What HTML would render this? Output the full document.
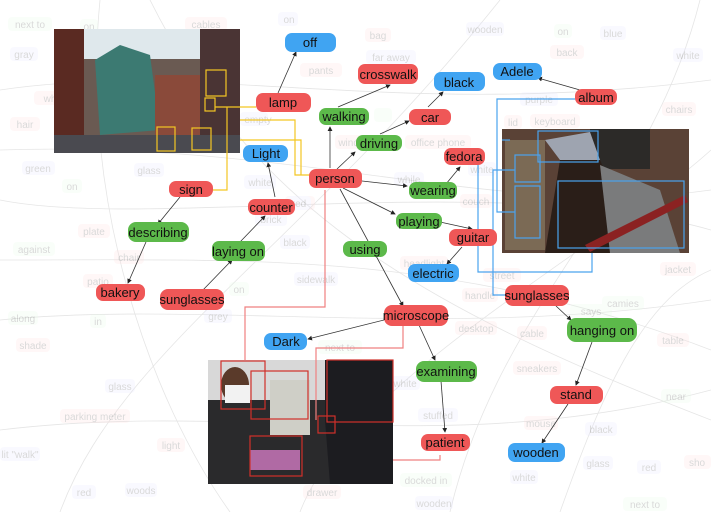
<!DOCTYPE html>
<html><head><meta charset="utf-8"><style>
html,body{margin:0;padding:0;background:#fff;width:711px;height:512px;overflow:hidden}
svg{display:block}
text{font-family:"Liberation Sans",sans-serif}
</style></head><body>
<svg width="711" height="512" viewBox="0 0 711 512" xmlns="http://www.w3.org/2000/svg">
<defs>
<marker id="a" markerWidth="6" markerHeight="6" refX="5" refY="3" orient="auto"><path d="M0,0 L6,3 L0,6z" fill="#222"/></marker>
</defs>
<!-- faint background curves -->
<g stroke="#ccc" stroke-width="0.8" fill="none" opacity="0.5">
<path d="M0,90 C200,60 400,120 711,80"/><path d="M0,200 C150,230 500,170 711,230"/>
<path d="M0,320 C200,300 450,340 711,300"/><path d="M60,512 C120,350 300,250 500,0"/>
<path d="M150,0 C250,200 400,300 711,420"/><path d="M0,430 C250,400 450,460 711,390"/>
<path d="M300,512 C350,380 600,250 711,150"/><path d="M450,512 C500,300 650,200 700,0"/>
<path d="M0,150 C300,140 500,220 711,190"/><path d="M100,0 C80,200 150,400 230,512"/>
<path d="M560,512 C600,400 640,300 711,270"/><path d="M0,260 C250,260 450,250 711,350"/>
</g>
<!-- faint background nodes -->
<g font-size="10" text-anchor="middle" opacity="0.22">
<g fill="#fdd"><rect x="185" y="17" width="42" height="14" rx="4"/><rect x="10" y="117" width="30" height="14" rx="4"/><rect x="78" y="224" width="32" height="14" rx="4"/><rect x="114" y="250" width="30" height="14" rx="4"/><rect x="83" y="274" width="30" height="14" rx="4"/><rect x="16" y="338" width="34" height="14" rx="4"/><rect x="60" y="409" width="70" height="14" rx="4"/><rect x="157" y="438" width="28" height="14" rx="4"/><rect x="365" y="28" width="26" height="14" rx="4"/><rect x="300" y="63" width="42" height="14" rx="4"/><rect x="550" y="45" width="34" height="14" rx="4"/><rect x="662" y="102" width="34" height="14" rx="4"/><rect x="504" y="115" width="18" height="14" rx="4"/><rect x="530" y="114" width="50" height="14" rx="4"/><rect x="405" y="135" width="66" height="14" rx="4"/><rect x="460" y="194" width="32" height="14" rx="4"/><rect x="400" y="256" width="48" height="14" rx="4"/><rect x="483" y="268" width="38" height="14" rx="4"/><rect x="462" y="288" width="36" height="14" rx="4"/><rect x="660" y="262" width="36" height="14" rx="4"/><rect x="455" y="321" width="42" height="14" rx="4"/><rect x="517" y="326" width="30" height="14" rx="4"/><rect x="657" y="333" width="32" height="14" rx="4"/><rect x="513" y="361" width="48" height="14" rx="4"/><rect x="524" y="416" width="34" height="14" rx="4"/><rect x="303" y="485" width="38" height="14" rx="4"/><rect x="684" y="455" width="27" height="14" rx="4"/><rect x="335" y="135" width="40" height="14" rx="4"/><rect x="285" y="196" width="30" height="14" rx="4"/><rect x="190" y="79" width="28" height="14" rx="4"/><rect x="34" y="91" width="30" height="14" rx="4"/></g>
<g fill="#e6e6ff"><rect x="10" y="47" width="28" height="14" rx="4"/><rect x="22" y="161" width="33" height="14" rx="4"/><rect x="134" y="163" width="30" height="14" rx="4"/><rect x="204" y="309" width="28" height="14" rx="4"/><rect x="294" y="272" width="44" height="14" rx="4"/><rect x="466" y="22" width="38" height="14" rx="4"/><rect x="600" y="26" width="26" height="14" rx="4"/><rect x="673" y="48" width="30" height="14" rx="4"/><rect x="366" y="50" width="50" height="14" rx="4"/><rect x="520" y="92" width="38" height="14" rx="4"/><rect x="468" y="162" width="28" height="14" rx="4"/><rect x="394" y="172" width="30" height="14" rx="4"/><rect x="390" y="376" width="30" height="14" rx="4"/><rect x="418" y="408" width="40" height="14" rx="4"/><rect x="585" y="422" width="32" height="14" rx="4"/><rect x="583" y="456" width="30" height="14" rx="4"/><rect x="637" y="460" width="24" height="14" rx="4"/><rect x="510" y="470" width="28" height="14" rx="4"/><rect x="415" y="496" width="38" height="14" rx="4"/><rect x="105" y="379" width="30" height="14" rx="4"/><rect x="72" y="485" width="24" height="14" rx="4"/><rect x="125" y="483" width="32" height="14" rx="4"/><rect x="0" y="447" width="40" height="14" rx="4"/><rect x="244" y="175" width="32" height="14" rx="4"/><rect x="287" y="196" width="24" height="14" rx="4"/><rect x="255" y="212" width="32" height="14" rx="4"/><rect x="280" y="235" width="30" height="14" rx="4"/><rect x="240" y="112" width="28" height="14" rx="4"/><rect x="278" y="12" width="20" height="14" rx="4"/></g>
<g fill="#e6fde6"><rect x="8" y="17" width="44" height="14" rx="4"/><rect x="80" y="19" width="18" height="14" rx="4"/><rect x="100" y="51" width="18" height="14" rx="4"/><rect x="62" y="179" width="20" height="14" rx="4"/><rect x="13" y="242" width="42" height="14" rx="4"/><rect x="8" y="311" width="30" height="14" rx="4"/><rect x="90" y="314" width="16" height="14" rx="4"/><rect x="229" y="282" width="20" height="14" rx="4"/><rect x="554" y="24" width="18" height="14" rx="4"/><rect x="374" y="108" width="18" height="14" rx="4"/><rect x="570" y="304" width="42" height="14" rx="4"/><rect x="602" y="296" width="42" height="14" rx="4"/><rect x="661" y="389" width="30" height="14" rx="4"/><rect x="400" y="473" width="52" height="14" rx="4"/><rect x="623" y="497" width="44" height="14" rx="4"/><rect x="318" y="340" width="44" height="14" rx="4"/></g>
<g fill="#555"><text x="30" y="28">next to</text><text x="89" y="30">on</text><text x="206" y="28">cables</text><text x="289" y="23">on</text><text x="24" y="58">gray</text><text x="109" y="62">on</text><text x="25" y="128">hair</text><text x="38" y="172">green</text><text x="72" y="190">on</text><text x="149" y="174">glass</text><text x="94" y="235">plate</text><text x="34" y="253">against</text><text x="129" y="261">chair</text><text x="98" y="285">patio</text><text x="23" y="322">along</text><text x="98" y="325">in</text><text x="33" y="349">shade</text><text x="120" y="390">glass</text><text x="95" y="420">parking meter</text><text x="171" y="449">light</text><text x="20" y="458">lit "walk"</text><text x="84" y="496">red</text><text x="141" y="494">woods</text><text x="218" y="320">grey</text><text x="239" y="293">on</text><text x="316" y="283">sidewalk</text><text x="378" y="39">bag</text><text x="485" y="33">wooden</text><text x="391" y="61">far away</text><text x="321" y="74">pants</text><text x="563" y="35">on</text><text x="613" y="37">blue</text><text x="567" y="56">back</text><text x="688" y="59">white</text><text x="539" y="103">purple</text><text x="513" y="126">lid</text><text x="555" y="125">keyboard</text><text x="679" y="113">chairs</text><text x="438" y="146">office phone</text><text x="482" y="173">white</text><text x="409" y="183">while</text><text x="476" y="205">couch</text><text x="424" y="267">headlight</text><text x="502" y="279">street</text><text x="480" y="299">handle</text><text x="678" y="273">jacket</text><text x="591" y="315">says</text><text x="623" y="307">camies</text><text x="476" y="332">desktop</text><text x="532" y="337">cable</text><text x="673" y="344">table</text><text x="537" y="372">sneakers</text><text x="405" y="387">white</text><text x="438" y="419">stuffed</text><text x="541" y="427">mouse</text><text x="601" y="433">black</text><text x="598" y="467">glass</text><text x="649" y="471">red</text><text x="426" y="484">docked in</text><text x="524" y="481">white</text><text x="434" y="507">wooden</text><text x="322" y="496">drawer</text><text x="645" y="508">next to</text><text x="697" y="466">sho</text><text x="260" y="186">white</text><text x="299" y="207">red</text><text x="271" y="223">brick</text><text x="295" y="246">black</text><text x="676" y="400">near</text><text x="340" y="351">next to</text><text x="258" y="123">empty</text><text x="355" y="146">window</text><text x="50" y="102">wh</text></g>
</g>
<!-- photos -->
<g>
<rect x="54" y="29" width="186" height="124" fill="#6a5a52"/>
<rect x="54" y="29" width="186" height="30" fill="#dfe8ec"/>
<rect x="54" y="29" width="30" height="124" fill="#5a2a22"/>
<rect x="200" y="29" width="40" height="124" fill="#4a3434"/>
<path d="M95,60 L120,45 L150,55 L160,130 L100,135z" fill="#3c7a72"/>
<rect x="155" y="75" width="45" height="60" fill="#8a4a3a"/>
<rect x="54" y="135" width="186" height="18" fill="#4a4a50"/>
<g fill="none" stroke="#f3c623" stroke-width="1.2"><rect x="206" y="70" width="20" height="26"/><rect x="205" y="98" width="10" height="13"/><rect x="157" y="127" width="18" height="24"/><rect x="192" y="128" width="19" height="22"/></g>
</g>
<g>
<rect x="502" y="129" width="187" height="124" fill="#5a4236"/>
<rect x="590" y="129" width="60" height="40" fill="#2c2a28"/>
<path d="M545,140 L590,132 L600,160 L560,160z" fill="#9ea4b0"/>
<path d="M560,160 L600,160 L640,253 L545,253z" fill="#2a1e18"/>
<path d="M600,165 L660,190 L680,253 L610,253z" fill="#7a7b7c"/>
<path d="M585,245 L685,195 L688,202 L590,252z" fill="#8b2222"/>
<rect x="505" y="140" width="40" height="110" fill="#7b6a55"/>
<g fill="none" stroke="#4aa3ee" stroke-width="1.2"><rect x="538" y="131" width="60" height="31"/><rect x="515" y="155" width="25" height="27"/><rect x="515" y="186" width="25" height="52"/><rect x="558" y="181" width="126" height="67"/></g>
</g>
<g>
<rect x="208" y="360" width="185" height="124" fill="#2a2a2c"/>
<rect x="208" y="360" width="185" height="40" fill="#d8d8d8"/>
<rect x="270" y="380" width="40" height="55" fill="#cfcfc7"/>
<ellipse cx="235" cy="385" rx="14" ry="18" fill="#5a3a2a"/>
<rect x="225" y="385" width="25" height="18" fill="#f2f2f2"/>
<path d="M325,360 L393,360 L393,484 L330,484 L325,420z" fill="#1c1c20"/>
<rect x="250" y="450" width="50" height="20" fill="#b06aa4"/>
<g fill="none" stroke="#d0302a" stroke-width="1.2"><rect x="221" y="361" width="44" height="48"/><rect x="251" y="371" width="57" height="48"/><rect x="327" y="360" width="66" height="62"/><rect x="318" y="416" width="17" height="17"/><rect x="250" y="436" width="52" height="40"/></g>
</g>
<!-- image connectors -->
<g fill="none" stroke="#f3c623" stroke-width="1.2">
<path d="M215,107 L256,107"/><path d="M240,120 L295,120 L295,175 L310,175"/><path d="M240,140 L301,140 L301,175"/><path d="M212,190 L227,190 L227,107"/>
</g>
<g fill="none" stroke="#ef8080" stroke-width="1.2">
<path d="M325,190 L325,307 L245,307 L245,360"/><path d="M403,324 L403,348 L316,348 L316,420"/><path d="M440,455 L440,460 L393,460"/>
</g>
<g fill="none" stroke="#4aa3ee" stroke-width="1.2">
<path d="M575,99 L497,99 L497,212 L515,212"/><path d="M448,158 L478,158 L478,272 L592,272 L592,253"/><path d="M505,295 L493,295 L493,170 L515,170"/><path d="M502,140 L510,140"/>
</g>
<!-- arrows -->
<g stroke="#333" stroke-width="0.8" fill="none" marker-end="url(#a)">
<line x1="278" y1="93" x2="296" y2="52"/>
<line x1="338" y1="107" x2="390" y2="85"/>
<line x1="428" y1="107" x2="443" y2="92"/>
<line x1="380" y1="134" x2="409" y2="121"/>
<line x1="580" y1="90" x2="538" y2="78"/>
<line x1="330" y1="168" x2="330" y2="127"/>
<line x1="337" y1="169" x2="355" y2="152"/>
<line x1="362" y1="181" x2="407" y2="186"/>
<line x1="446" y1="184" x2="460" y2="167"/>
<line x1="343" y1="188" x2="395" y2="214"/>
<line x1="440" y1="222" x2="472" y2="229"/>
<line x1="462" y1="247" x2="447" y2="264"/>
<line x1="340" y1="189" x2="403" y2="306"/>
<line x1="384" y1="320" x2="308" y2="339"/>
<line x1="419" y1="325" x2="435" y2="360"/>
<line x1="441" y1="381" x2="445" y2="432"/>
<line x1="556" y1="306" x2="571" y2="320"/>
<line x1="592" y1="342" x2="576" y2="385"/>
<line x1="568" y1="404" x2="542" y2="443"/>
<line x1="275" y1="197" x2="268" y2="163"/>
<line x1="240" y1="242" x2="265" y2="216"/>
<line x1="180" y1="197" x2="158" y2="224"/>
<line x1="146" y1="242" x2="128" y2="283"/>
<line x1="202" y1="291" x2="232" y2="260"/>
</g>
<!-- nodes -->
<g font-size="13" text-anchor="middle">
<g fill="#40a4f2"><rect x="285" y="33" width="51" height="19" rx="7"/><rect x="434" y="72" width="51" height="19" rx="7"/><rect x="493" y="63" width="49" height="17" rx="7"/><rect x="243" y="145" width="45" height="17" rx="7"/><rect x="408" y="264" width="51" height="18" rx="7"/><rect x="264" y="333" width="43" height="17" rx="7"/><rect x="508" y="443" width="57" height="19" rx="7"/></g>
<g fill="#ef5757"><rect x="256" y="93" width="55" height="19" rx="7"/><rect x="358" y="64" width="60" height="20" rx="7"/><rect x="575" y="89" width="42" height="16" rx="7"/><rect x="409" y="109" width="42" height="16" rx="7"/><rect x="444" y="148" width="41" height="17" rx="7"/><rect x="309" y="169" width="53" height="19" rx="7"/><rect x="169" y="181" width="44" height="16" rx="7"/><rect x="248" y="199" width="47" height="16" rx="7"/><rect x="449" y="229" width="48" height="17" rx="7"/><rect x="96" y="284" width="49" height="17" rx="7"/><rect x="160" y="289" width="64" height="21" rx="8"/><rect x="505" y="285" width="64" height="21" rx="8"/><rect x="384" y="305" width="64" height="21" rx="8"/><rect x="550" y="386" width="53" height="18" rx="7"/><rect x="421" y="434" width="49" height="17" rx="7"/></g>
<g fill="#5cb94a"><rect x="319" y="108" width="50" height="17" rx="7"/><rect x="356" y="135" width="46" height="16" rx="7"/><rect x="409" y="182" width="48" height="17" rx="7"/><rect x="128" y="222" width="61" height="20" rx="8"/><rect x="396" y="213" width="46" height="16" rx="7"/><rect x="212" y="241" width="53" height="20" rx="7"/><rect x="343" y="241" width="44" height="16" rx="7"/><rect x="567" y="318" width="70" height="24" rx="9"/><rect x="416" y="361" width="61" height="21" rx="8"/></g>
<g fill="#111"><text x="310" y="47">off</text><text x="283" y="107">lamp</text><text x="388" y="79">crosswalk</text><text x="459" y="87">black</text><text x="517" y="76">Adele</text><text x="596" y="102">album</text><text x="344" y="121">walking</text><text x="430" y="122">car</text><text x="379" y="148">driving</text><text x="464" y="161">fedora</text><text x="335" y="183">person</text><text x="266" y="158">Light</text><text x="191" y="194">sign</text><text x="433" y="195">wearing</text><text x="271" y="212">counter</text><text x="158" y="237">describing</text><text x="419" y="226">playing</text><text x="473" y="242">guitar</text><text x="238" y="256">laying on</text><text x="365" y="254">using</text><text x="433" y="278">electric</text><text x="120" y="297">bakery</text><text x="192" y="304">sunglasses</text><text x="537" y="300">sunglasses</text><text x="416" y="320">microscope</text><text x="602" y="335">hanging on</text><text x="286" y="346">Dark</text><text x="446" y="376">examining</text><text x="576" y="399">stand</text><text x="445" y="447">patient</text><text x="536" y="457">wooden</text></g>
</g>
</svg>
</body></html>
